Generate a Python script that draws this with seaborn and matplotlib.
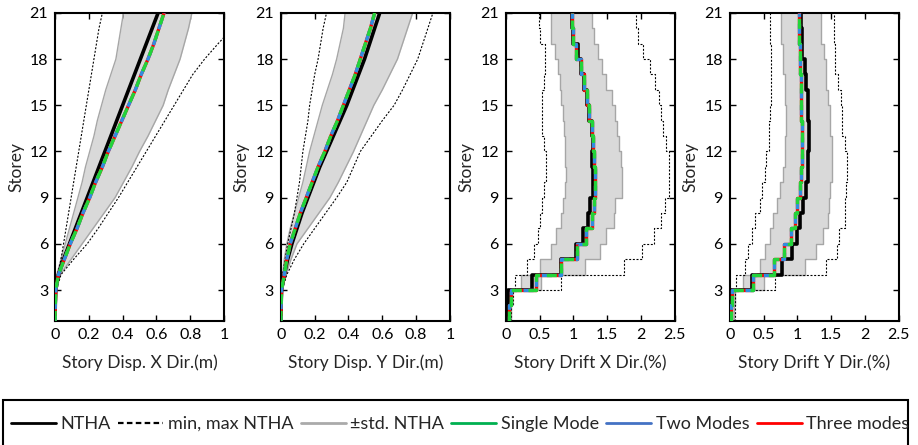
"""Storey response profiles: NTHA statistics vs modal pushover estimates."""

import numpy as np
import matplotlib
matplotlib.use("Agg")
import matplotlib.pyplot as plt
from matplotlib.lines import Line2D
from matplotlib.patches import Rectangle
from matplotlib.ticker import FormatStrFormatter
import seaborn as sns

# ---- data ---------------------------------------------------------------
levels = np.arange(1, 22)

# storey displacement (m), one value per level 1..21
ntha_ux = [0, 0.001, 0.004, 0.02, 0.05, 0.085, 0.12, 0.155, 0.19, 0.225, 0.26,
           0.295, 0.33, 0.365, 0.40, 0.435, 0.47, 0.505, 0.54, 0.575, 0.61]
modal_ux = [0, 0.001, 0.004, 0.02, 0.055, 0.09, 0.13, 0.165, 0.205, 0.24, 0.28,
            0.315, 0.355, 0.395, 0.435, 0.475, 0.51, 0.55, 0.585, 0.615, 0.645]
std_lo_ux = [0, 0, 0.002, 0.01, 0.035, 0.06, 0.085, 0.11, 0.135, 0.16, 0.18,
             0.205, 0.23, 0.25, 0.275, 0.30, 0.33, 0.36, 0.375, 0.39, 0.405]
std_hi_ux = [0, 0.002, 0.006, 0.03, 0.095, 0.16, 0.225, 0.29, 0.355, 0.405, 0.455,
             0.50, 0.55, 0.595, 0.64, 0.67, 0.705, 0.74, 0.765, 0.79, 0.81]
min_ux = [0, 0, 0.002, 0.015, 0.035, 0.05, 0.065, 0.08, 0.095, 0.11, 0.125,
          0.14, 0.155, 0.17, 0.185, 0.20, 0.215, 0.23, 0.245, 0.26, 0.28]
max_ux = [0, 0.002, 0.008, 0.035, 0.11, 0.19, 0.255, 0.315, 0.375, 0.43, 0.485,
          0.54, 0.595, 0.65, 0.705, 0.76, 0.815, 0.885, 0.965, 1.05, 1.13]

ntha_uy = [0, 0.001, 0.004, 0.02, 0.04, 0.065, 0.095, 0.125, 0.16, 0.195, 0.23,
           0.27, 0.31, 0.35, 0.39, 0.425, 0.46, 0.495, 0.525, 0.555, 0.585]
modal_uy = [0, 0.001, 0.004, 0.02, 0.035, 0.055, 0.085, 0.115, 0.15, 0.185, 0.22,
            0.26, 0.295, 0.335, 0.37, 0.405, 0.44, 0.47, 0.50, 0.53, 0.555]
std_lo_uy = [0, 0, 0.002, 0.01, 0.02, 0.035, 0.055, 0.08, 0.105, 0.13, 0.15,
             0.17, 0.195, 0.22, 0.245, 0.275, 0.305, 0.33, 0.35, 0.37, 0.38]
std_hi_uy = [0, 0.002, 0.006, 0.03, 0.06, 0.095, 0.16, 0.225, 0.29, 0.34, 0.385,
             0.43, 0.47, 0.51, 0.55, 0.60, 0.645, 0.69, 0.72, 0.75, 0.78]
min_uy = [0, 0, 0.002, 0.01, 0.025, 0.04, 0.06, 0.08, 0.095, 0.11, 0.12,
          0.13, 0.145, 0.16, 0.17, 0.185, 0.20, 0.22, 0.235, 0.25, 0.27]
max_uy = [0, 0.002, 0.008, 0.035, 0.08, 0.135, 0.20, 0.265, 0.33, 0.39, 0.43,
          0.47, 0.535, 0.60, 0.67, 0.72, 0.765, 0.81, 0.84, 0.87, 0.90]

# inter-storey drift (%), one value per storey interval 1-2 .. 20-21
ntha_dx = [0.015, 0.025, 0.39, 0.82, 1.035, 1.135, 1.21, 1.245, 1.285, 1.285,
           1.28, 1.295, 1.27, 1.235, 1.195, 1.16, 1.11, 1.07, 1.0, 0.975]
modal_dx = [0.05, 0.07, 0.45, 0.82, 1.06, 1.19, 1.27, 1.30, 1.32, 1.32,
            1.31, 1.295, 1.27, 1.235, 1.195, 1.16, 1.11, 1.045, 1.0, 0.975]
std_lo_dx = [0.0, 0.0, 0.22, 0.51, 0.67, 0.75, 0.81, 0.85, 0.87, 0.89,
             0.875, 0.875, 0.86, 0.84, 0.81, 0.80, 0.77, 0.73, 0.67, 0.67]
std_hi_dx = [0.08, 0.09, 0.52, 1.17, 1.39, 1.49, 1.60, 1.62, 1.72, 1.72,
             1.71, 1.68, 1.65, 1.62, 1.57, 1.48, 1.43, 1.36, 1.31, 1.275]
min_dx = [0.0, 0.0, 0.14, 0.32, 0.42, 0.48, 0.50, 0.54, 0.56, 0.59,
          0.59, 0.57, 0.54, 0.53, 0.54, 0.57, 0.585, 0.58, 0.51, 0.49]
max_dx = [0.08, 0.10, 0.82, 1.75, 2.02, 2.19, 2.30, 2.36, 2.41, 2.42,
          2.41, 2.37, 2.33, 2.29, 2.26, 2.21, 2.14, 2.03, 1.95, 1.92]

ntha_dy = [0.01, 0.015, 0.335, 0.775, 0.92, 0.995, 1.045, 1.08, 1.13, 1.155,
           1.15, 1.17, 1.17, 1.16, 1.16, 1.125, 1.11, 1.07, 1.065, 1.06]
modal_dy = [0.025, 0.035, 0.34, 0.65, 0.80, 0.91, 0.96, 1.0, 1.035, 1.06,
            1.07, 1.07, 1.065, 1.06, 1.05, 1.05, 1.04, 1.04, 1.03, 1.03]
std_lo_dy = [0.0, 0.0, 0.20, 0.44, 0.52, 0.60, 0.64, 0.70, 0.75, 0.78,
             0.81, 0.82, 0.83, 0.83, 0.81, 0.81, 0.79, 0.79, 0.765, 0.765]
std_hi_dy = [0.06, 0.07, 0.50, 1.11, 1.28, 1.375, 1.45, 1.47, 1.49, 1.515,
             1.515, 1.515, 1.49, 1.49, 1.455, 1.425, 1.425, 1.39, 1.35, 1.35]
min_dy = [0.0, 0.0, 0.095, 0.22, 0.27, 0.33, 0.38, 0.44, 0.48, 0.52,
          0.54, 0.575, 0.58, 0.60, 0.615, 0.615, 0.615, 0.615, 0.59, 0.59]
max_dy = [0.07, 0.08, 0.675, 1.43, 1.59, 1.62, 1.70, 1.71, 1.72, 1.74,
          1.74, 1.70, 1.66, 1.66, 1.64, 1.60, 1.56, 1.56, 1.54, 1.54]

xlabels = ["Story Disp. X Dir.(m)", "Story Disp. Y Dir.(m)",
           "Story Drift X Dir.(%)", "Story Drift Y Dir.(%)"]
legend_labels = ["NTHA", "min, max NTHA", "\u00b1std. NTHA",
                 "Single Mode", "Two Modes", "Three modes"]

# ---- style ----------------------------------------------------------------
sns.set_theme(style="ticks")
plt.rcParams["font.family"] = ["Lato", "DejaVu Sans"]

C_BAND = "#d9d9d9"
C_EDGE = "#a6a6a6"
C_GREEN = "#22d43a"
C_BLUE = "#2f8ee0"
C_RED = "#ff0000"


def stepped(vals):
    """Constant value over each storey interval."""
    y = np.repeat(levels, 2)[1:-1]
    x = np.repeat(np.asarray(vals, dtype=float), 2)
    return x, y


def draw_panel(ax, ntha, modal, lo, hi, vmin, vmax, step):
    if step:
        (x_n, y), (x_m, _), (x_lo, _), (x_hi, _), (x_mn, _), (x_mx, _) = [
            stepped(v) for v in (ntha, modal, lo, hi, vmin, vmax)]
    else:
        y = levels
        x_n, x_m, x_lo, x_hi, x_mn, x_mx = [np.asarray(v, dtype=float)
                                           for v in (ntha, modal, lo, hi, vmin, vmax)]
    ax.fill_betweenx(y, x_lo, x_hi, color=C_BAND, lw=0, zorder=1)
    for xe in (x_lo, x_hi):
        sns.lineplot(x=xe, y=y, sort=False, estimator=None, ax=ax,
                     color=C_EDGE, lw=1.0, zorder=2)
    for xe in (x_mn, x_mx):
        sns.lineplot(x=xe, y=y, sort=False, estimator=None, ax=ax,
                     color="black", lw=0.8, linestyle=(0, (1.8, 1.5)), zorder=2)
    sns.lineplot(x=x_n, y=y, sort=False, estimator=None, ax=ax,
                 color="black", lw=2.6, zorder=3)
    sns.lineplot(x=x_m, y=y, sort=False, estimator=None, ax=ax,
                 color=C_RED, lw=2.4, zorder=4)
    sns.lineplot(x=x_m, y=y, sort=False, estimator=None, ax=ax,
                 color=C_BLUE, lw=2.4, linestyle=(1.5, (3, 2)), zorder=5)
    sns.lineplot(x=x_m, y=y, sort=False, estimator=None, ax=ax,
                 color=C_GREEN, lw=2.4, linestyle=(0, (3, 2)), zorder=6)


fig = plt.figure(figsize=(9.18, 4.45), dpi=100)
lefts = [0.060, 0.306, 0.551, 0.795]
panels = [
    (ntha_ux, modal_ux, std_lo_ux, std_hi_ux, min_ux, max_ux, False, 1.0, 0.2),
    (ntha_uy, modal_uy, std_lo_uy, std_hi_uy, min_uy, max_uy, False, 1.0, 0.2),
    (ntha_dx, modal_dx, std_lo_dx, std_hi_dx, min_dx, max_dx, True, 2.5, 0.5),
    (ntha_dy, modal_dy, std_lo_dy, std_hi_dy, min_dy, max_dy, True, 2.5, 0.5),
]

for left, xlab, p in zip(lefts, xlabels, panels):
    ax = fig.add_axes([left, 0.279, 0.184, 0.692])
    ntha, modal, lo, hi, vmin, vmax, step, xmax, dx = p
    draw_panel(ax, ntha, modal, lo, hi, vmin, vmax, step)
    ax.set_xlim(0, xmax)
    ax.set_ylim(1, 21)
    ax.set_xticks(np.arange(0, xmax + 1e-9, dx))
    ax.set_yticks(np.arange(3, 22, 3))
    ax.xaxis.set_major_formatter(FormatStrFormatter("%g"))
    ax.tick_params(direction="in", top=True, right=True, length=4, width=1,
                   labelsize=11.5, colors="black", pad=5)
    for s in ax.spines.values():
        s.set_linewidth(1.5)
        s.set_color("black")
    ax.set_xlabel(xlab, fontsize=12.5, labelpad=9)
    ax.set_ylabel("Storey", fontsize=12.5, labelpad=4)

handles = [
    Line2D([], [], color="black", lw=2),
    Line2D([], [], color="black", lw=1.6, linestyle=(0, (2.5, 1.5))),
    Line2D([], [], color="#aaaaaa", lw=2),
    Line2D([], [], color="#00b050", lw=2),
    Line2D([], [], color="#4472c4", lw=2),
    Line2D([], [], color=C_RED, lw=2),
]
leg = fig.legend(handles, legend_labels, loc="center left",
                 bbox_to_anchor=(11 / 918, 1 - 424 / 445), ncol=6,
                 frameon=False, fontsize=13, handlelength=2.5,
                 handletextpad=0.25, columnspacing=0.4, borderpad=0,
                 borderaxespad=0)

# legend box: open at the bottom edge of the figure, as in the source
fig.patches.append(Rectangle((3 / 918, -0.05), 905 / 918, 0.05 + 45 / 445,
                             transform=fig.transFigure, fill=False,
                             edgecolor="black", lw=1.5))

fig.savefig("out.png", dpi=100)
